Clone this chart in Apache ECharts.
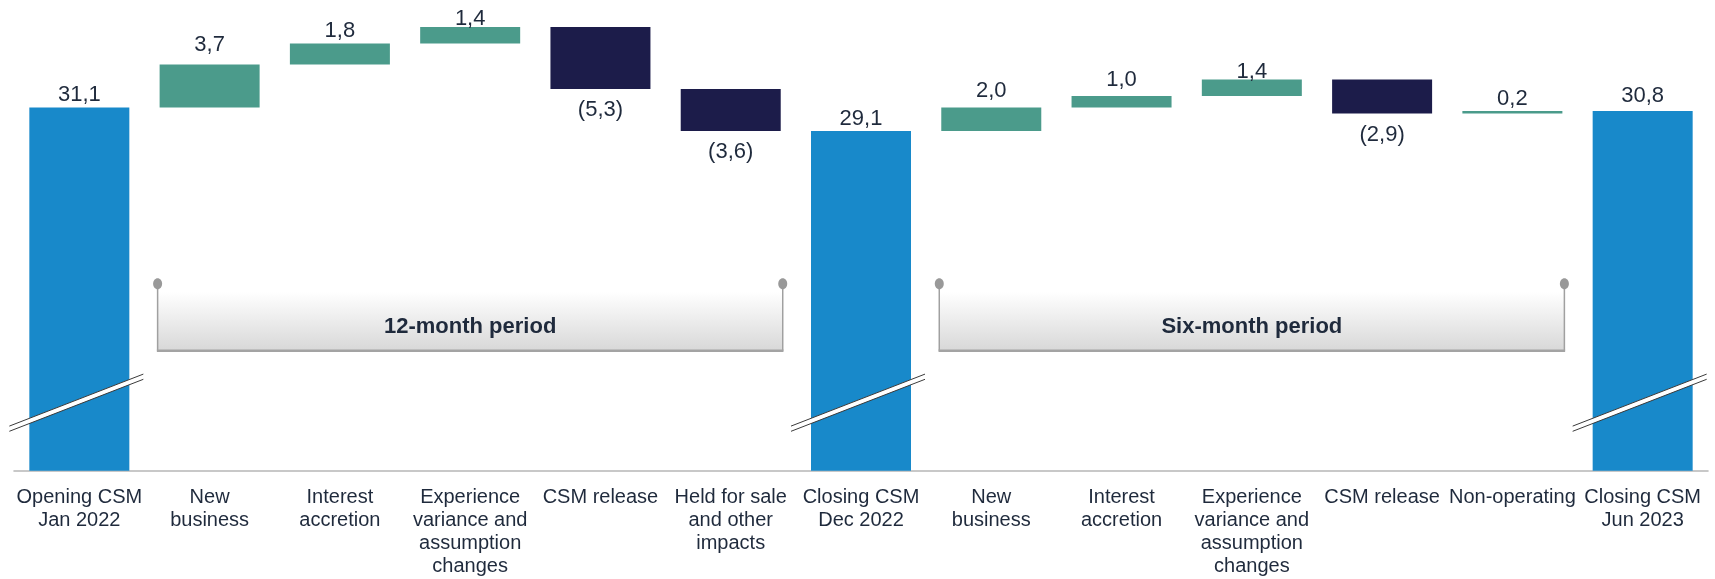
<!DOCTYPE html>
<html><head><meta charset="utf-8">
<script src="https://cdn.jsdelivr.net/npm/echarts@6/dist/echarts.min.js"></script>
<style>html,body{margin:0;padding:0;background:#fff}#c{width:1715px;height:579px}</style>
</head><body><div id="c"></div>
<script>
const categories = [
  'Opening CSM\nJan 2022', 'New\nbusiness', 'Interest\naccretion',
  'Experience\nvariance and\nassumption\nchanges', 'CSM release',
  'Held for sale\nand other\nimpacts', 'Closing CSM\nDec 2022',
  'New\nbusiness', 'Interest\naccretion',
  'Experience\nvariance and\nassumption\nchanges', 'CSM release',
  'Non-operating', 'Closing CSM\nJun 2023'
];
const isTotal = [true, false, false, false, false, false, true, false, false, false, false, false, true];
const values = [31.1, 3.7, 1.8, 1.4, -5.3, -3.6, 29.1, 2.0, 1.0, 1.4, -2.9, 0.2, 30.8];
const periodLabels = ['12-month period', 'Six-month period'];
const periodFrom = [1, 7];
const periodTo = [5, 11];

// styling: per-bar vertical nudge of the value label (px, positive = up), as placed in the original
const labelLift = [0, 7, 0, -4, 0, 0, 0, 4, 3, -5, 0, 0, 3];

const COL_TOTAL = '#1889ca', COL_UP = '#4b9b8b', COL_DOWN = '#1c1c4a', TXT = '#1f2a3c';
const FONT = '"Liberation Sans", Arial, sans-serif';

const base = [], tot = [], inc = [], dec = [];
let running = 0;
const item = (v, i) => ({value: v, label: {offset: [0, -labelLift[i]]}});
values.forEach((v, i) => {
  if (isTotal[i]) { base.push(0); tot.push(item(v, i)); inc.push('-'); dec.push('-'); running = v; }
  else if (v >= 0) { base.push(+running.toFixed(2)); inc.push(item(v, i)); dec.push('-'); tot.push('-'); running += v; }
  else { running += v; base.push(+running.toFixed(2)); dec.push(-v); inc.push('-'); tot.push('-'); }
});
const fmt = v => Number(v).toFixed(1).replace('.', ',');

const chart = echarts.init(document.getElementById('c'), null, {renderer: 'canvas'});
const valLabel = {show: true, position: 'top', distance: 1.5, fontSize: 22, color: TXT, fontFamily: FONT,
  formatter: p => fmt(p.value)};
const option = {
  animation: false,
  grid: {left: 14.2, right: 7.2, top: 3.7, bottom: 108.3, containLabel: false},
  xAxis: {
    type: 'category', data: categories,
    axisLine: {lineStyle: {color: '#c8c8c8', width: 2}},
    axisTick: {show: false},
    axisLabel: {interval: 0, fontSize: 20, lineHeight: 23, color: TXT, margin: 15, fontFamily: FONT}
  },
  yAxis: {type: 'value', min: 0, max: 40, show: false, splitLine: {show: false}},
  series: [
    {type: 'bar', stack: 'w', data: base, barWidth: 100, silent: true,
     itemStyle: {color: 'rgba(0,0,0,0)'}},
    {type: 'bar', stack: 'w', data: tot, barWidth: 100, itemStyle: {color: COL_TOTAL}, label: valLabel},
    {type: 'bar', stack: 'w', data: inc, barWidth: 100, itemStyle: {color: COL_UP}, label: valLabel},
    {type: 'bar', stack: 'w', data: dec, barWidth: 100, itemStyle: {color: COL_DOWN},
     label: {show: true, position: 'bottom', distance: 10, fontSize: 22, color: TXT, fontFamily: FONT,
       formatter: p => '(' + fmt(p.value) + ')'}}
  ]
};
chart.setOption(option);

const y0 = chart.convertToPixel({yAxisIndex: 0}, 0);
const cx = i => chart.convertToPixel({xAxisIndex: 0}, i);
const graphics = [];

// axis-break marks on total bars
isTotal.forEach((t, i) => {
  if (!t) return;
  const c = cx(i) - 3, cy = y0 - 68, dx = 67, dy = 26, h = 2.6;
  graphics.push({type: 'polygon', z: 100, shape: {points: [[c - dx, cy + dy - h], [c + dx, cy - dy - h], [c + dx, cy - dy + h], [c - dx, cy + dy + h]]},
    style: {fill: '#ffffff'}});
  graphics.push({type: 'line', z: 101, shape: {x1: c - dx, y1: cy + dy - h, x2: c + dx, y2: cy - dy - h}, style: {stroke: '#3a3a3a', lineWidth: 1}});
  graphics.push({type: 'line', z: 101, shape: {x1: c - dx, y1: cy + dy + h, x2: c + dx, y2: cy - dy + h}, style: {stroke: '#3a3a3a', lineWidth: 1}});
});

// period brackets
periodLabels.forEach((lab, k) => {
  const L = cx(periodFrom[k]) - 52, R = cx(periodTo[k]) + 52;
  const pinY = y0 - 187, bot = y0 - 120;
  graphics.push({type: 'rect', z: 50, shape: {x: L, y: pinY + 8, width: R - L, height: bot - pinY - 8},
    style: {fill: new echarts.graphic.LinearGradient(0, 0, 0, 1, [{offset: 0, color: '#ffffff'}, {offset: 1, color: '#d8d8d8'}])}});
  graphics.push({type: 'line', z: 51, shape: {x1: L, y1: pinY, x2: L, y2: bot}, style: {stroke: '#a0a0a0', lineWidth: 1.5}});
  graphics.push({type: 'line', z: 51, shape: {x1: R, y1: pinY, x2: R, y2: bot}, style: {stroke: '#a0a0a0', lineWidth: 1.5}});
  graphics.push({type: 'line', z: 51, shape: {x1: L - 0.75, y1: bot, x2: R + 0.75, y2: bot}, style: {stroke: '#a3a3a3', lineWidth: 2.5}});
  graphics.push({type: 'ellipse', z: 52, shape: {cx: L, cy: pinY, rx: 4.5, ry: 5.5}, style: {fill: '#999999'}});
  graphics.push({type: 'ellipse', z: 52, shape: {cx: R, cy: pinY, rx: 4.5, ry: 5.5}, style: {fill: '#999999'}});
  graphics.push({type: 'text', z: 53, x: (L + R) / 2, y: y0 - 144,
    style: {text: lab, align: 'center', verticalAlign: 'middle', font: 'bold 22px ' + FONT, fill: TXT}});
});
chart.setOption({graphic: {elements: graphics}});
</script>
</body></html>
